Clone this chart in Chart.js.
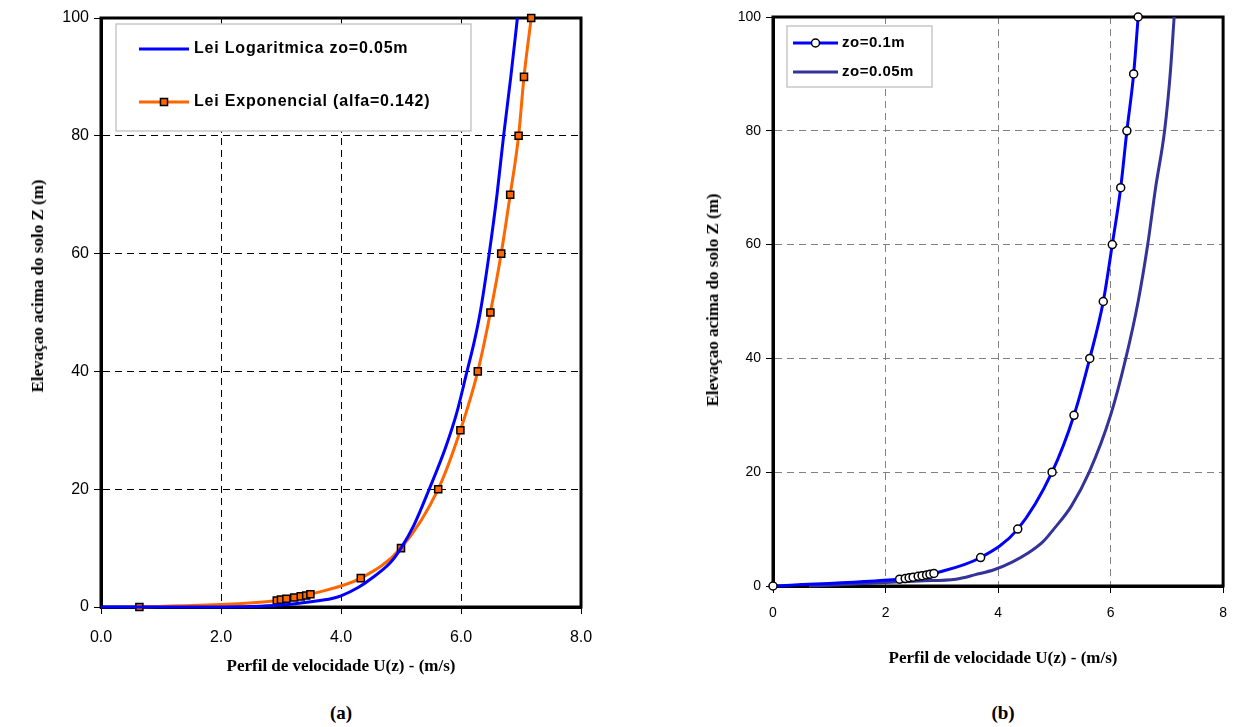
<!DOCTYPE html>
<html>
<head>
<meta charset="utf-8">
<script src="https://cdn.jsdelivr.net/npm/chart.js@4.4.1/dist/chart.umd.min.js"></script>
<style>
  body { margin: 0; background: #fff; width: 1239px; height: 727px; position: relative; overflow: hidden; }
  canvas { position: absolute; top: 0; }
  .t { position: absolute; font: bold 17px "Liberation Serif", "Times New Roman", serif; white-space: nowrap; transform: translate(-50%, -50%); color: #000; }
  .ty { transform: translate(-50%, -50%) rotate(-90deg); }
  .cap { font-size: 19px; }
</style>
</head>
<body>
<canvas id="chartA" width="630" height="690" style="left:0px"></canvas>
<canvas id="chartB" width="599" height="690" style="left:640px"></canvas>

<div class="t ty" style="left:38px; top:286px">Elevaçao acima do solo Z (m)</div>
<div class="t" style="left:341px; top:666px">Perfil de velocidade U(z) - (m/s)</div>
<div class="t cap" style="left:341px; top:713px">(a)</div>

<div class="t ty" style="left:713px; top:300px">Elevaçao acima do solo Z (m)</div>
<div class="t" style="left:1003px; top:658px">Perfil de velocidade U(z) - (m/s)</div>
<div class="t cap" style="left:1003px; top:713px">(b)</div>

<script>
// grafico (a) - lei logaritmica x lei exponencial
const aLogU = [0, 1.5, 2.5, 3.0, 3.5, 3.85, 4.0, 4.3, 4.5, 4.82, 5.0, 5.22, 5.47, 5.74, 5.93, 6.1, 6.22, 6.32, 6.47, 6.6, 6.71, 6.83, 6.94];
const aLogZ = [0, 0, 0.1, 0.35, 0.9, 1.45, 1.9, 3.4, 4.8, 7.5, 10, 14, 20, 27, 33, 40, 45, 50, 60, 70, 80, 90, 100];
const aExpU = [0.64, 2.93, 3.0, 3.09, 3.22, 3.33, 3.42, 3.49, 4.33, 5.0, 5.62, 5.99, 6.28, 6.49, 6.67, 6.82, 6.96, 7.05, 7.17];
const aExpZ = [0, 1.1, 1.25, 1.4, 1.6, 1.8, 1.95, 2.15, 4.9, 10, 20, 30, 40, 50, 60, 70, 80, 90, 100];

// grafico (b) - zo=0.1m x zo=0.05m
const bZo1U = [0, 2.25, 2.35, 2.42, 2.49, 2.58, 2.65, 2.73, 2.79, 2.86, 3.69, 4.35, 4.96, 5.35, 5.63, 5.87, 6.03, 6.18, 6.29, 6.41, 6.49];
const bZo1Z = [0, 1.2, 1.3, 1.45, 1.55, 1.7, 1.8, 1.95, 2.05, 2.2, 5, 10, 20, 30, 40, 50, 60, 70, 80, 90, 100];
const bZo05U = [0.64, 2.0, 2.6, 3.25, 3.6, 3.94, 4.25, 4.52, 4.8, 4.99, 5.3, 5.62, 6.0, 6.27, 6.49, 6.66, 6.8, 6.96, 7.06, 7.13];
const bZo05Z = [0, 0.6, 0.9, 1.2, 2.0, 2.9, 4.2, 5.7, 7.8, 10, 14, 20, 30, 40, 50, 60, 70, 80, 90, 100];

const aXTicks = ['0.0', '2.0', '4.0', '6.0', '8.0'];
const bXTicks = ['0', '2', '4', '6', '8'];
const yTicks = ['0', '20', '40', '60', '80', '100'];

function toPoints(us, zs) {
  return us.map((u, i) => ({ x: u, y: zs[i] }));
}

// moldura preta em volta da area do grafico
const framePlugin = {
  id: 'frame',
  beforeDatasetsDraw(chart) {
    const { ctx, chartArea: a } = chart;
    ctx.save();
    ctx.lineWidth = 3;
    ctx.strokeStyle = '#000';
    ctx.strokeRect(a.left, a.top, a.right - a.left, a.bottom - a.top);
    ctx.restore();
  }
};

// legenda dentro da area, com caixa branca
const boxLegend = {
  id: 'boxLegend',
  afterDraw(chart, args, o) {
    const ctx = chart.ctx;
    ctx.save();
    ctx.fillStyle = '#fff';
    ctx.fillRect(o.x, o.y, o.w, o.h);
    ctx.strokeStyle = '#c8c8c8';
    ctx.lineWidth = 1.5;
    ctx.strokeRect(o.x, o.y, o.w, o.h);
    chart.data.datasets.forEach((ds, i) => {
      const y = o.rows[i];
      ctx.strokeStyle = ds.borderColor;
      ctx.lineWidth = ds.borderWidth;
      ctx.beginPath();
      ctx.moveTo(o.x1, y);
      ctx.lineTo(o.x2, y);
      ctx.stroke();
      if (ds.pointRadius > 0) {
        const mx = (o.x1 + o.x2) / 2;
        ctx.fillStyle = ds.pointBackgroundColor;
        ctx.strokeStyle = ds.pointBorderColor;
        ctx.lineWidth = ds.pointBorderWidth;
        ctx.beginPath();
        if (ds.pointStyle === 'rect') {
          const s = ds.pointRadius * Math.SQRT1_2;
          ctx.rect(mx - s, y - s, 2 * s, 2 * s);
        } else {
          ctx.arc(mx, y, ds.pointRadius, 0, Math.PI * 2);
        }
        ctx.fill();
        ctx.stroke();
      }
      ctx.fillStyle = '#000';
      ctx.font = o.font;
      ctx.letterSpacing = o.spacing || '0px';
      ctx.textBaseline = 'middle';
      ctx.fillText(ds.label, o.tx, y);
    });
    ctx.restore();
  }
};

function axes(o) {
  return {
    x: {
      type: 'linear', min: 0, max: 8,
      afterFit: s => { s.height = o.xh; },
      ticks: { stepSize: 2, callback: (v, i) => o.xt[i], color: '#000',
        font: { family: 'Liberation Sans', size: o.fs }, padding: o.xpad, maxRotation: 0 },
      grid: { color: o.gc, lineWidth: 1, tickLength: 7, tickColor: '#000', tickWidth: 1, tickBorderDash: [] },
      border: { display: true, color: '#000', width: 3, dash: [7, 5] }
    },
    y: {
      type: 'linear', min: 0, max: 100,
      afterFit: s => { s.width = o.yw; },
      ticks: { stepSize: 20, callback: (v, i) => yTicks[i], color: '#000',
        font: { family: 'Liberation Sans', size: o.fs }, padding: 5 },
      grid: { color: o.gc, lineWidth: 1, tickLength: 7, tickColor: '#000', tickWidth: 1, tickBorderDash: [] },
      border: { display: true, color: '#000', width: 3, dash: [7, 5] }
    }
  };
}

new Chart(document.getElementById('chartA'), {
  type: 'scatter',
  data: {
    datasets: [
      {
        label: 'Lei Logaritmica zo=0.05m',
        data: toPoints(aLogU, aLogZ),
        showLine: true, borderColor: '#0000ff', borderWidth: 3,
        pointRadius: 0, cubicInterpolationMode: 'monotone', clip: false
      },
      {
        label: 'Lei Exponencial (alfa=0.142)',
        data: toPoints(aExpU, aExpZ),
        showLine: true, borderColor: '#ff6600', borderWidth: 3,
        pointStyle: 'rect', pointRadius: 5, pointBackgroundColor: '#ff6600',
        pointBorderColor: '#000', pointBorderWidth: 1.5,
        cubicInterpolationMode: 'monotone', clip: false
      }
    ]
  },
  options: {
    responsive: false,
    animation: false,
    layout: { padding: { left: 0, top: 18, right: 49, bottom: 0 } },
    scales: axes({ xh: 83, yw: 101, xt: aXTicks, fs: 16, xpad: 14, gc: '#000' }),
    plugins: {
      legend: { display: false },
      tooltip: { enabled: false },
      boxLegend: { x: 116, y: 24, w: 355, h: 107, rows: [49, 102], x1: 139, x2: 189, tx: 194,
        font: 'bold 16px "Liberation Sans"', spacing: '0.8px' }
    }
  },
  plugins: [framePlugin, boxLegend]
});

new Chart(document.getElementById('chartB'), {
  type: 'scatter',
  data: {
    datasets: [
      {
        label: 'zo=0.1m',
        data: toPoints(bZo1U, bZo1Z),
        showLine: true, borderColor: '#0000ff', borderWidth: 3,
        pointStyle: 'circle', pointRadius: 4, pointBackgroundColor: '#fff',
        pointBorderColor: '#000', pointBorderWidth: 1.5,
        cubicInterpolationMode: 'monotone', clip: false
      },
      {
        label: 'zo=0.05m',
        data: toPoints(bZo05U, bZo05Z),
        showLine: true, borderColor: '#333399', borderWidth: 3,
        pointRadius: 0, cubicInterpolationMode: 'monotone', clip: false
      }
    ]
  },
  options: {
    responsive: false,
    animation: false,
    layout: { padding: { left: 0, top: 17, right: 6, bottom: 0 } },
    scales: axes({ xh: 104, yw: 133, xt: bXTicks, fs: 14, xpad: 12, gc: '#808080' }),
    plugins: {
      legend: { display: false },
      tooltip: { enabled: false },
      boxLegend: { x: 147, y: 26, w: 145, h: 61, rows: [43, 72], x1: 153, x2: 198, tx: 202,
        font: 'bold 15px "Liberation Sans"', spacing: '0.5px' }
    }
  },
  plugins: [framePlugin, boxLegend]
});
</script>
</body>
</html>
